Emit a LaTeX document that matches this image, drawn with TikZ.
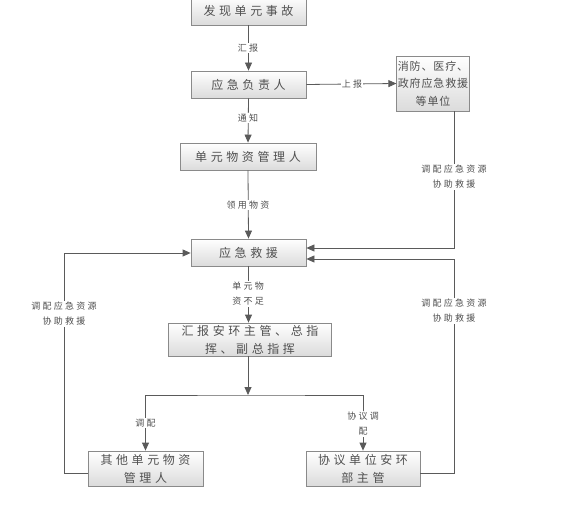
\documentclass[tikz,border=0pt]{standalone}
\usepackage{fontspec}
\usetikzlibrary{arrows.meta}
\newfontfamily\cjkbox{Noto Sans CJK SC}[LetterSpace=30]
\newfontfamily\cjkboxs{Noto Sans CJK SC}[LetterSpace=8]
\newfontfamily\cjklbl{Noto Sans CJK SC}[LetterSpace=25]
\definecolor{txt}{HTML}{505050}
\definecolor{ln}{HTML}{5A5A5A}
\definecolor{bd}{HTML}{8A8A8A}
\tikzset{
  box/.style={draw=bd, line width=0.8pt, top color=white, bottom color=black!14,
    align=center, inner sep=1pt, text=txt, font=\cjkbox\fontsize{12}{18}\selectfont},
  lbl/.style={fill=white, inner sep=1pt, align=center, text=txt,
    font=\cjklbl\fontsize{9}{15}\selectfont},
  conn/.style={draw=ln, line width=0.8pt},
  arr/.style={conn, -{Triangle[length=8pt,width=7pt]}},
  darr/.style={conn, {Triangle[length=8pt,width=7pt]}-{Triangle[length=8pt,width=7pt]}}
}
\begin{document}
\begin{tikzpicture}[x=1pt,y=-1pt]
\useasboundingbox (0,0) rectangle (572,510);
% boxes
\node[box, minimum width=115, minimum height=29] (b1) at (248.5,10.5) {发现单元事故};
\node[box, minimum width=115, minimum height=27] (b2) at (248.5,84.5) {应急负责人};
\node[box, minimum width=72, minimum height=55, font=\cjkboxs\fontsize{11}{17.5}\selectfont] (b3) at (433,83.5) {消防、医疗、\\政府应急救援\\等单位};
\node[box, minimum width=136, minimum height=27] (b4) at (248,156.5) {单元物资管理人};
\node[box, minimum width=115, minimum height=27] (b5) at (248.5,252.5) {应急救援};
\node[box, minimum width=163, minimum height=33] (b7) at (250,339.5) {汇报安环主管、总指\\挥、副总指挥};
\node[box, minimum width=115, minimum height=35] (b6) at (145.5,468.5) {其他单元物资\\管理人};
\node[box, minimum width=114, minimum height=35] (b8) at (363,468.5) {协议单位安环\\部主管};
% coordinates
\coordinate (rx) at (454,0);
\coordinate (lx) at (64,0);
\coordinate (j) at (248,395);
% connectors
\draw[arr] (b1.south) -- (b2.north);
\draw[arr] (b2.east) -- (b3.west);
\draw[arr] (b2.south) -- (b4.north);
\draw[arr] (b4.south) -- (b5.north);
\draw[arr] (b5.south) -- (b5.south |- b7.north);
\draw[arr] (b3.south -| rx) |- ([yshift=4.5pt]b5.east);
\draw[arr] ([yshift=-4.5pt]b8.east) -| ([yshift=-6.5pt]b5.east -| rx) -- ([yshift=-6.5pt]b5.east);
\draw[arr] ([yshift=-4.5pt]b6.west) -| ([yshift=-0.5pt]b5.west -| lx) -- ([yshift=-0.5pt]b5.west);
\draw[arr] (b7.south -| j) -- (j);
\draw[darr] (b6.north) |- (j) -| (b8.north);
% labels
\node[lbl] (l1) at (248,48) {汇报};
\node[lbl] (l2) at (352,84) {上报};
\node[lbl] (l3) at (248,118) {通知};
\node[lbl] (l4) at (248,205) {领用物资};
\node[lbl] (l5) at (248,294) {单元物\\资不足};
\node[lbl] (l6) at (454,177) {调配应急资源\\协助救援};
\node[lbl] (l7) at (454,311) {调配应急资源\\协助救援};
\node[lbl] (l8) at (64,314) {调配应急资源\\协助救援};
\node[lbl] (l9) at (145.5,423) {调配};
\node[lbl] (l10) at (363,424) {协议调\\配};
\end{tikzpicture}
\end{document}
